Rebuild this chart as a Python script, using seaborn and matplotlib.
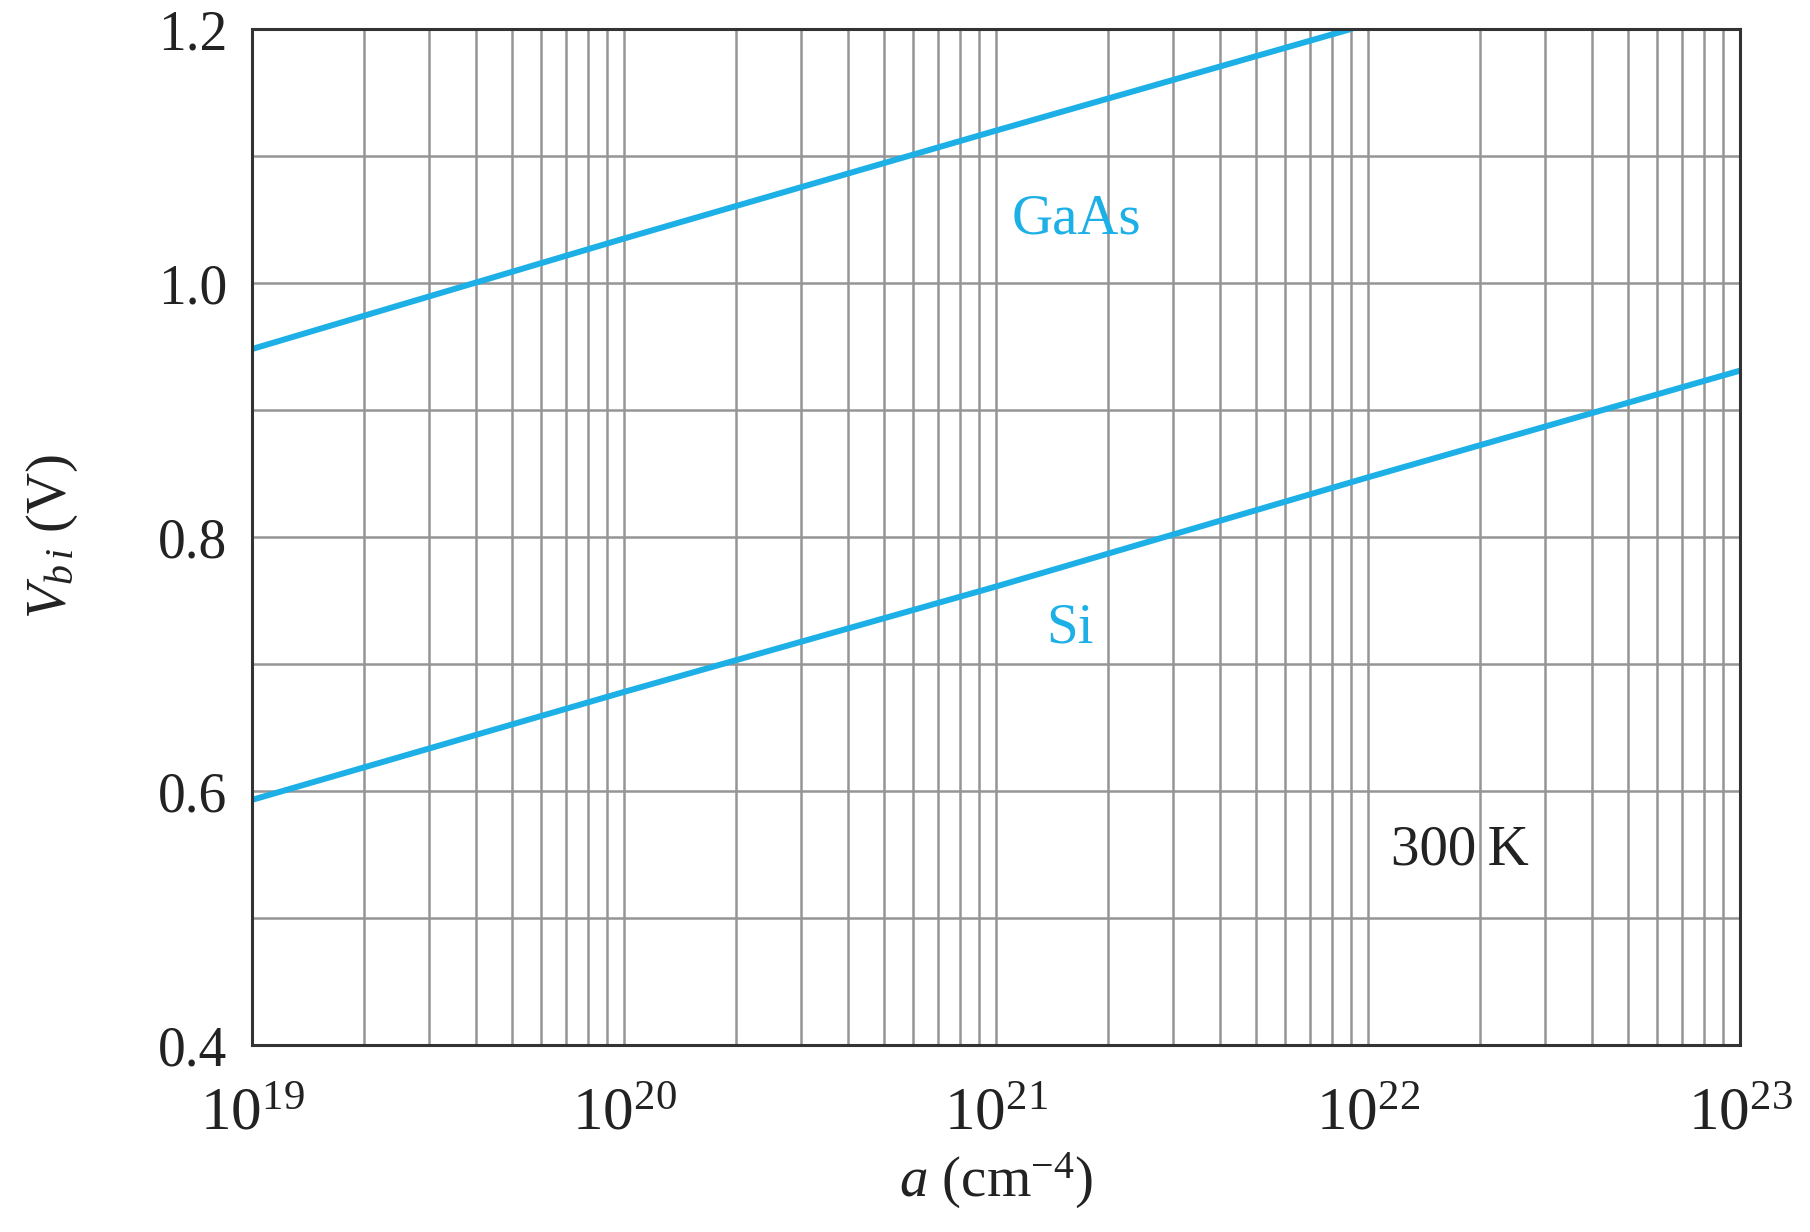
import numpy as np
import pandas as pd
import matplotlib
matplotlib.use("Agg")
import matplotlib.pyplot as plt
import seaborn as sns
from matplotlib.ticker import FixedLocator, LogLocator, NullFormatter

# Data
gaas_a = [1e19, 1e20, 1e21, 9e21]
gaas_v = [0.948, 1.035, 1.120, 1.200]
si_a = [1e19, 1e20, 1e21, 1e22, 1e23]
si_v = [0.593, 0.678, 0.761, 0.847, 0.931]
x_ticks = [1e19, 1e20, 1e21, 1e22, 1e23]
x_tick_labels = [r"$10^{19}$", r"$10^{20}$", r"$10^{21}$", r"$10^{22}$", r"$10^{23}$"]
y_ticks = [0.4, 0.6, 0.8, 1.0, 1.2]
y_tick_labels = ["0.4", "0.6", "0.8", "1.0", "1.2"]
y_minor = [0.5, 0.7, 0.9, 1.1]

sns.set_style("white")
plt.rcParams["font.family"] = ["Liberation Serif", "DejaVu Serif"]
plt.rcParams["mathtext.fontset"] = "custom"
plt.rcParams["mathtext.rm"] = "Liberation Serif"
plt.rcParams["mathtext.it"] = "Liberation Serif:italic"
plt.rcParams["mathtext.bf"] = "Liberation Serif:bold"

df = pd.DataFrame({
    "a": gaas_a + si_a,
    "V": gaas_v + si_v,
    "mat": ["GaAs"] * len(gaas_a) + ["Si"] * len(si_a),
})

fig = plt.figure(figsize=(18.10, 12.32), dpi=100)
ax = fig.add_axes([252 / 1810, 1 - 1045 / 1232, (1740 - 252) / 1810, (1045 - 29) / 1232])

line_color = "#1cb0e6"
sns.lineplot(data=df, x="a", y="V", hue="mat", palette=[line_color, line_color],
             linewidth=4.3, legend=False, ax=ax, zorder=3)

ax.set_xscale("log")
ax.set_xlim(1e19, 1e23)
ax.set_ylim(0.4, 1.2)

ax.xaxis.set_major_locator(FixedLocator(x_ticks))
ax.set_xticks(x_ticks)
ax.set_xticklabels(x_tick_labels, fontsize=44)
ax.xaxis.set_minor_locator(LogLocator(base=10, subs=np.arange(2, 10)))
ax.xaxis.set_minor_formatter(NullFormatter())

ax.set_yticks(y_ticks)
ax.set_yticklabels(y_tick_labels, fontsize=40)
ax.yaxis.set_minor_locator(FixedLocator(y_minor))

grid_kw = dict(color="#959595", linewidth=1.8)
ax.grid(True, which="both", axis="both", **grid_kw)
ax.set_axisbelow(True)

ax.tick_params(axis="both", which="both", length=0)
ax.tick_params(axis="x", pad=30)
ax.tick_params(axis="y", pad=18)

for s in ax.spines.values():
    s.set_color("#333333")
    s.set_linewidth(2.2)
    s.set_zorder(4)

ax.set_xlabel(r"$a$ (cm$^{-4}$)", fontsize=41, color="#222222", labelpad=6)
ax.set_ylabel(r"$V_{b\,i}$ (V)", fontsize=41, color="#222222", labelpad=56)

for lab in ax.get_xticklabels() + ax.get_yticklabels():
    lab.set_color("#222222")

ax.text(10 ** 21.215, 1.05, "GaAs", color=line_color, fontsize=41, ha="center", va="center")
ax.text(10 ** 21.20, 0.728, "Si", color=line_color, fontsize=41, ha="center", va="center")
ax.text(10 ** 22.247, 0.553, "300\u2009K", color="#222222", fontsize=41, ha="center", va="center")

fig.savefig("out.png", dpi=100, facecolor="white")
